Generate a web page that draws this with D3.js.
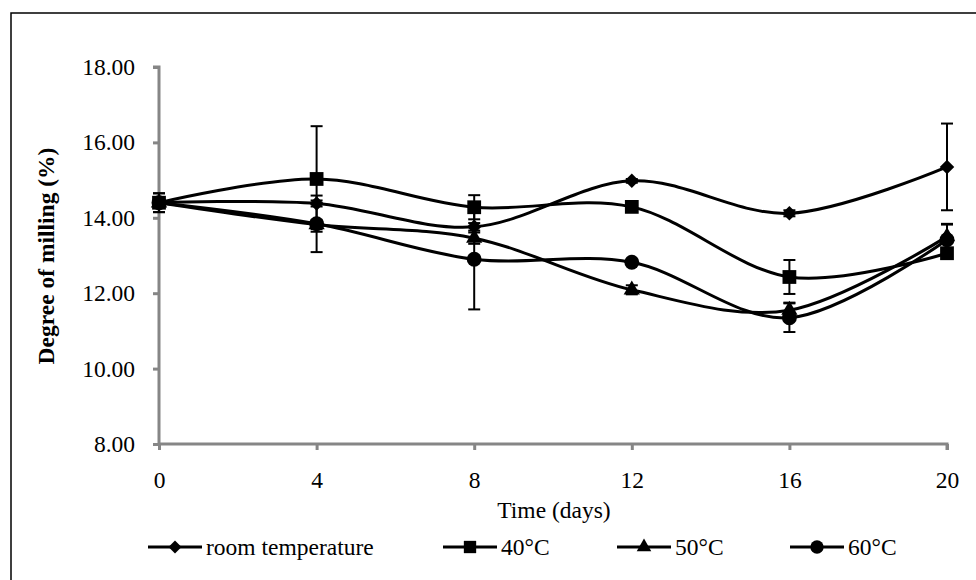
<!DOCTYPE html>
<html lang="en">
<head>
<meta charset="UTF-8">
<title>Degree of milling</title>
<style>
  html,body{margin:0;padding:0;background:#fff;}
  svg{display:block;}
</style>
</head>
<body>
<div id="chart"></div>
<script src="https://d3js.org/d3.v7.min.js"></script>
<script>
// data
const days = [0, 4, 8, 12, 16, 20];
const seriesNames = ["room temperature", "40°C", "50°C", "60°C"];
const roomTemp = [14.40, 14.38, 13.76, 14.98, 14.12, 15.35];
const roomTempErr = [0.25, 0.08, 0.1, 0.05, 0.08, 1.15];
const temp40 = [14.40, 15.03, 14.28, 14.29, 12.43, 13.06];
const temp40Err = [0.25, 1.4, 0.32, 0.05, 0.45, 0.1];
const temp50 = [14.40, 13.82, 13.46, 12.09, 11.55, 13.50];
const temp50Err = [0.1, 0.12, 0.15, 0.12, 0.2, 0.32];
const temp60 = [14.40, 13.84, 12.90, 12.82, 11.35, 13.42];
const temp60Err = [0.1, 0.75, 1.33, 0.05, 0.38, 0.42];
const yTicks = [8, 10, 12, 14, 16, 18];
const symbols = ["diamond", "square", "triangle", "circle"];

const series = [
  {name: seriesNames[0], values: roomTemp, err: roomTempErr, sym: symbols[0]},
  {name: seriesNames[1], values: temp40, err: temp40Err, sym: symbols[1]},
  {name: seriesNames[2], values: temp50, err: temp50Err, sym: symbols[2]},
  {name: seriesNames[3], values: temp60, err: temp60Err, sym: symbols[3]}
];

const width = 976, height = 580;
const FONT = "'Liberation Serif', 'Times New Roman', serif";
const FS = 23.5;
const svg = d3.select("#chart").append("svg")
  .attr("width", width).attr("height", height)
  .attr("font-family", FONT).attr("font-size", FS);

// outer frame
svg.append("rect").attr("x", 11).attr("y", 13)
  .attr("width", 980).attr("height", 600)
  .attr("fill", "none").attr("stroke", "#000").attr("stroke-width", 1.5);

const x = d3.scaleLinear().domain([0, 20]).range([159, 947]);
const y = d3.scaleLinear().domain([8, 18]).range([444, 67]);

const axisColor = "#868686";

// y axis
const yAxis = svg.append("g").attr("transform", "translate(159,0)")
  .call(d3.axisLeft(y).tickValues(yTicks).tickFormat(d3.format(".2f")).tickSize(6).tickPadding(18));
// x axis
const xAxis = svg.append("g").attr("transform", "translate(0,444)")
  .call(d3.axisBottom(x).tickValues(days).tickSize(6).tickPadding(21));

[yAxis, xAxis].forEach(g => {
  g.attr("font-family", FONT).attr("font-size", FS);
  g.select(".domain").attr("stroke", axisColor).attr("stroke-width", 3);
  g.selectAll(".tick line").attr("stroke", axisColor).attr("stroke-width", 3);
  g.selectAll("text").attr("fill", "#000");
});
yAxis.select(".domain").attr("d", "M-6,67H0V444");
xAxis.select(".domain").attr("d", "M159,0H947V6");

// axis titles
svg.append("text").attr("x", 554).attr("y", 518)
  .attr("text-anchor", "middle").text("Time (days)");
svg.append("text").attr("transform", "translate(54,256) rotate(-90)")
  .attr("text-anchor", "middle").attr("font-weight", "bold")
  .text("Degree of milling (%)");

const line = d3.line()
  .x((d, i) => x(days[i]))
  .y(d => y(d))
  .curve(d3.curveCatmullRom.alpha(0));

// marker: diamond is a square turned 45deg (Excel style)
function marker(sel, sym, k) {
  k = k || 1;
  if (sym === "diamond") {
    sel.attr("d", d3.symbol(d3.symbolSquare, 105 * k)());
    return " rotate(45)";
  }
  const t = {square: d3.symbolSquare, triangle: d3.symbolTriangle, circle: d3.symbolCircle}[sym];
  const sz = {square: 190, triangle: 115, circle: 175}[sym];
  sel.attr("d", d3.symbol(t, sz * k)());
  return "";
}

series.forEach(s => {
  const g = svg.append("g");
  // error bars
  s.values.forEach((v, i) => {
    const cx = x(days[i]);
    const y1 = y(v + s.err[i]), y2 = y(v - s.err[i]);
    g.append("line").attr("x1", cx).attr("x2", cx).attr("y1", y1).attr("y2", y2)
      .attr("stroke", "#000").attr("stroke-width", 2);
    [y1, y2].forEach(yy => g.append("line")
      .attr("x1", cx - 6).attr("x2", cx + 6).attr("y1", yy).attr("y2", yy)
      .attr("stroke", "#000").attr("stroke-width", 2));
  });
  g.append("path").attr("d", line(s.values))
    .attr("fill", "none").attr("stroke", "#000").attr("stroke-width", 3);
  s.values.forEach((v, i) => {
    const p = g.append("path").attr("fill", "#000");
    const rot = marker(p, s.sym);
    p.attr("transform", `translate(${x(days[i])},${y(v)})` + rot);
  });
});

// legend
const legendX = [148, 443, 617, 790];
const legendY = 547;
series.forEach((s, i) => {
  const lx = legendX[i];
  const lg = svg.append("g");
  lg.append("line").attr("x1", lx).attr("x2", lx + 54).attr("y1", legendY).attr("y2", legendY)
    .attr("stroke", "#000").attr("stroke-width", 3);
  const p = lg.append("path").attr("fill", "#000");
  const rot = marker(p, s.sym, 0.8);
  p.attr("transform", `translate(${lx + 27},${legendY})` + rot);
  lg.append("text").attr("x", lx + 58).attr("y", legendY + 8).text(s.name);
});
</script>
</body>
</html>
